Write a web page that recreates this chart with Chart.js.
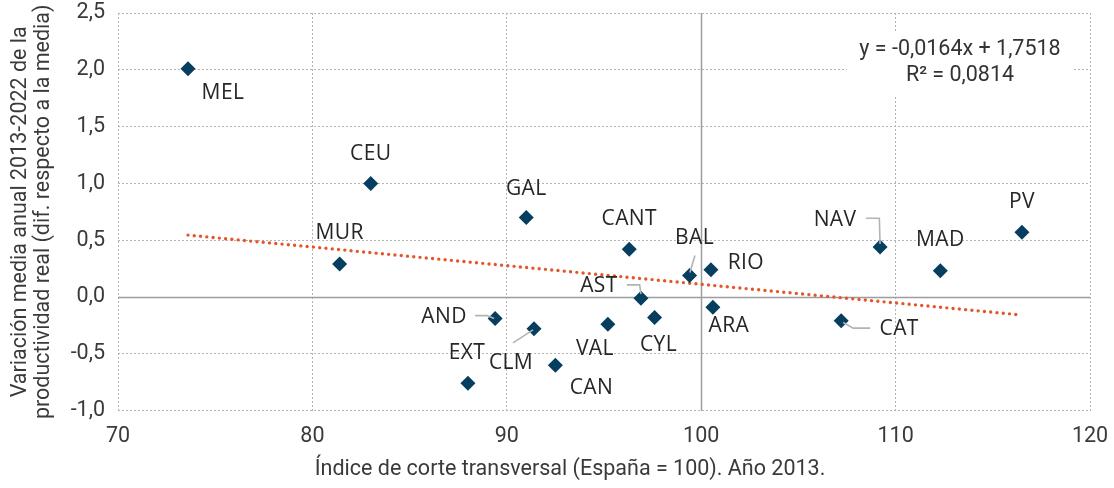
<!DOCTYPE html>
<html>
<head>
<meta charset="utf-8">
<script src="https://cdn.jsdelivr.net/npm/chart.js@4/dist/chart.umd.min.js"></script>
<style>
  html, body { margin: 0; padding: 0; background: #fff; }
  #wrap { width: 1114px; height: 488px; }
</style>
</head>
<body>
<div id="wrap"><canvas id="c" width="1114" height="488"></canvas></div>
<script>
// ---- data ----
const regions = ['MEL','CEU','GAL','CANT','MUR','BAL','RIO','AST','ARA','AND','CLM','VAL','CYL','CAN','EXT','NAV','MAD','PV','CAT'];
const indice2013 = [73.6, 83.0, 91.0, 96.3, 81.4, 99.4, 100.5, 96.9, 100.6, 89.4, 91.4, 95.2, 97.6, 92.5, 88.0, 109.2, 112.3, 116.5, 107.2];
const variacion = [2.01, 1.00, 0.70, 0.42, 0.29, 0.19, 0.24, -0.01, -0.09, -0.19, -0.28, -0.24, -0.18, -0.60, -0.76, 0.44, 0.23, 0.57, -0.21];
const trendX = [73.6, 116.5];
const trendY = [0.545, -0.159];
const xTicks = [70, 80, 90, 100, 110, 120];
const yTicks = [-1.0, -0.5, 0.0, 0.5, 1.0, 1.5, 2.0, 2.5];
const refX = 100;
const refY = 0;
const equationLines = ['y = -0,0164x + 1,7518', 'R² = 0,0814'];
const xTitle = 'Índice de corte transversal (España = 100). Año 2013.';
const yTitle = ['Variación media anual 2013-2022 de la', 'productividad real (dif. respecto a la media)'];

// ---- label placement (pixel offsets from each point) ----
const labelPlacement = {
  MEL: {dx: 35, dy: 24}, CEU: {dx: 0, dy: -29}, GAL: {dx: 0, dy: -28}, CANT: {dx: 0, dy: -30},
  MUR: {dx: 0, dy: -31}, BAL: {dx: 5, dy: -37, leader: [[5.4,-20],[0.4,-3]]},
  RIO: {dx: 35, dy: -7}, AST: {dx: -42, dy: -12, leader: [[-14,-13.3],[-1.3,-13.3],[0,-4]]},
  ARA: {dx: 16, dy: 19}, AND: {dx: -51, dy: -2, leader: [[-20,-3],[-8,-3],[-1,0]]},
  CLM: {dx: -23, dy: 34, leader: [[-21,14],[-1,1]]}, VAL: {dx: -13, dy: 25}, CYL: {dx: 4, dy: 28},
  CAN: {dx: 36, dy: 23}, EXT: {dx: -1, dy: -30},
  NAV: {dx: -45, dy: -27, leader: [[-14,-28.7],[-0.7,-28.7],[0,-3]]},
  MAD: {dx: 0, dy: -31}, PV: {dx: 0, dy: -30},
  CAT: {dx: 58, dy: 8, leader: [[29,7.3],[12,7.3],[2,1.7]]}
};

const AXIS_FONT = 'Roboto, "Liberation Sans", sans-serif';
const LABEL_FONT = '"Open Sans", "Noto Sans", sans-serif';
const AXIS_SIZE = 21.5;
const fmt = v => Number(v).toFixed(1).replace('.', ',');

const overlayPlugin = {
  id: 'overlay',
  beforeDatasetsDraw(chart) {
    const {ctx, chartArea: a, scales: {x, y}} = chart;
    ctx.save();
    // reference lines
    ctx.strokeStyle = '#9d9d9d';
    ctx.lineWidth = 1.5;
    ctx.beginPath();
    const px = Math.round(x.getPixelForValue(refX)) + 0.5;
    const py = Math.round(y.getPixelForValue(refY)) + 0.5;
    ctx.moveTo(px, a.top); ctx.lineTo(px, a.bottom);
    ctx.moveTo(a.left, py); ctx.lineTo(a.right, py);
    ctx.stroke();
    // equation box
    ctx.fillStyle = '#ffffff';
    ctx.fillRect(847, 33, 225, 64);
    ctx.fillStyle = '#333333';
    ctx.font = AXIS_SIZE + 'px ' + AXIS_FONT;
    ctx.textAlign = 'center';
    ctx.textBaseline = 'middle';
    ctx.fillText(equationLines[0], 960, 50);
    ctx.fillText(equationLines[1], 960, 76);
    // x axis title
    ctx.fillStyle = '#3a3a3a';
    ctx.fillText(xTitle, 570, 470);
    ctx.restore();
  },
  afterDatasetsDraw(chart) {
    const {ctx, scales: {x, y}} = chart;
    ctx.save();
    regions.forEach((r, i) => {
      const p = labelPlacement[r];
      const cx = x.getPixelForValue(indice2013[i]);
      const cy = y.getPixelForValue(variacion[i]);
      if (p.leader) {
        ctx.strokeStyle = '#b3b3b3';
        ctx.lineWidth = 1.6;
        ctx.beginPath();
        p.leader.forEach((pt, k) => {
          if (k === 0) ctx.moveTo(cx + pt[0], cy + pt[1]);
          else ctx.lineTo(cx + pt[0], cy + pt[1]);
        });
        ctx.stroke();
      }
      ctx.fillStyle = '#262626';
      ctx.font = '21px ' + LABEL_FONT;
      try { ctx.letterSpacing = '0.4px'; } catch (e) {}
      ctx.textAlign = 'center';
      ctx.textBaseline = 'middle';
      ctx.fillText(r, cx + p.dx, cy + p.dy);
    });
    ctx.restore();
  }
};

new Chart(document.getElementById('c'), {
  type: 'scatter',
  data: {
    datasets: [
      {
        label: 'CCAA',
        data: indice2013.map((v, i) => ({x: v, y: variacion[i]})),
        pointStyle: 'rectRot',
        pointRadius: 7.5,
        pointHoverRadius: 7.5,
        backgroundColor: '#053e5e',
        borderColor: '#053e5e',
        borderWidth: 0,
        order: 1
      },
      {
        type: 'line',
        label: 'Tendencia',
        data: trendX.map((v, i) => ({x: v, y: trendY[i]})),
        borderColor: '#e4552a',
        borderWidth: 3.4,
        borderDash: [0, 6.3],
        borderCapStyle: 'round',
        pointRadius: 0,
        fill: false,
        order: 2
      }
    ]
  },
  options: {
    responsive: false,
    animation: false,
    devicePixelRatio: 1,
    layout: {padding: {top: 13, right: 24, left: 0, bottom: 0}},
    plugins: {legend: {display: false}, tooltip: {enabled: false}},
    scales: {
      x: {
        type: 'linear',
        min: 70, max: 120,
        afterBuildTicks: s => { s.ticks = xTicks.map(v => ({value: v})); },
        afterFit: s => { s.height = 77.4; s.paddingLeft = 0; s.paddingRight = 0; },
        grid: {color: '#b4b4b4', lineWidth: 1, drawTicks: false},
        border: {display: false, dash: [2, 2]},
        ticks: {color: '#3a3a3a', font: {family: AXIS_FONT, size: AXIS_SIZE}, padding: 13, maxRotation: 0}
      },
      y: {
        type: 'linear',
        min: -1, max: 2.5,
        afterBuildTicks: s => { s.ticks = yTicks.map(v => ({value: v})); },
        afterFit: s => { s.width = 118; s.paddingTop = 0; s.paddingBottom = 0; },
        grid: {color: '#b4b4b4', lineWidth: 1, drawTicks: false},
        border: {display: false, dash: [2, 2]},
        ticks: {color: '#3a3a3a', font: {family: AXIS_FONT, size: AXIS_SIZE}, padding: 13, callback: v => fmt(v)},
        title: {
          display: true,
          text: yTitle,
          color: '#3a3a3a',
          font: {family: AXIS_FONT, size: AXIS_SIZE, lineHeight: 1.07},
          padding: {top: 9, bottom: 0}
        }
      }
    }
  },
  plugins: [overlayPlugin]
});
</script>
</body>
</html>
